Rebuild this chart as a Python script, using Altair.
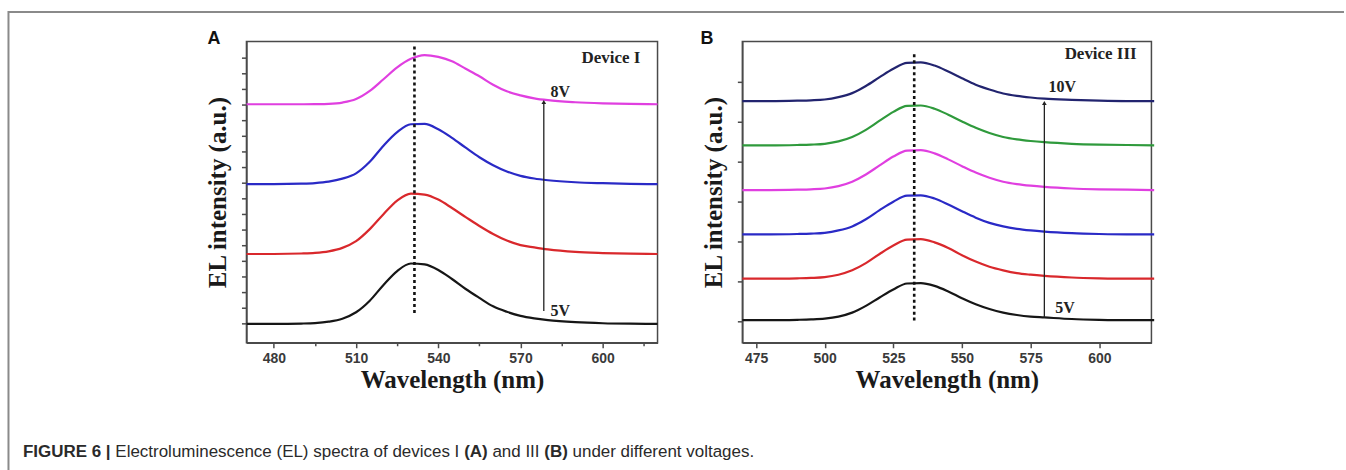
import altair as alt
import pandas as pd

# ---------------- data ----------------
WAVELENGTH = [470, 480, 490, 495, 500, 505, 510, 515, 520, 525, 530, 535, 540,
              545, 550, 555, 560, 565, 570, 575, 580, 590, 600, 610, 620]

# Device I (panel A), offset curves, y in tick units
DEV1_NAMES = ["I-5V", "I-6V", "I-7V", "I-8V"]
DEV1_5V = [0.00, 0.00, 0.02, 0.05, 0.14, 0.33, 0.74, 1.48, 2.49, 3.38, 3.86, 3.80, 3.45,
           2.87, 2.23, 1.66, 1.12, 0.77, 0.51, 0.35, 0.24, 0.11, 0.04, 0.01, 0.00]
DEV1_6V = [4.47, 4.47, 4.50, 4.54, 4.64, 4.86, 5.29, 6.06, 7.02, 7.89, 8.33, 8.27, 7.95,
           7.41, 6.83, 6.26, 5.75, 5.33, 5.04, 4.89, 4.76, 4.60, 4.53, 4.49, 4.47]
DEV1_7V = [8.94, 8.94, 8.97, 9.01, 9.10, 9.29, 9.63, 10.37, 11.40, 12.27, 12.77, 12.79, 12.45,
           11.90, 11.27, 10.66, 10.15, 9.75, 9.47, 9.30, 9.19, 9.06, 9.00, 8.96, 8.94]
DEV1_8V = [14.05, 14.05, 14.05, 14.06, 14.08, 14.16, 14.38, 14.90, 15.65, 16.41, 16.96, 17.20, 17.08,
           16.80, 16.32, 15.84, 15.30, 14.88, 14.62, 14.43, 14.31, 14.18, 14.11, 14.07, 14.05]

# Device III (panel B)
DEV3_NAMES = ["III-5V", "III-6V", "III-7V", "III-8V", "III-9V", "III-10V"]
DEV3_5V = [0.04, 0.04, 0.05, 0.06, 0.08, 0.13, 0.23, 0.40, 0.61, 0.81, 0.96, 0.97, 0.90,
           0.76, 0.59, 0.44, 0.32, 0.23, 0.17, 0.13, 0.11, 0.07, 0.05, 0.04, 0.04]
DEV3_6V = [1.08, 1.08, 1.09, 1.10, 1.12, 1.18, 1.29, 1.47, 1.70, 1.91, 2.06, 2.07, 1.99,
           1.85, 1.67, 1.51, 1.38, 1.29, 1.22, 1.18, 1.15, 1.11, 1.09, 1.08, 1.08]
DEV3_7V = [2.19, 2.19, 2.20, 2.21, 2.23, 2.29, 2.39, 2.57, 2.80, 3.01, 3.16, 3.17, 3.09,
           2.94, 2.77, 2.61, 2.48, 2.39, 2.33, 2.29, 2.26, 2.22, 2.20, 2.19, 2.19]
DEV3_8V = [3.30, 3.30, 3.31, 3.32, 3.34, 3.40, 3.51, 3.69, 3.92, 4.14, 4.29, 4.30, 4.22,
           4.07, 3.90, 3.74, 3.61, 3.51, 3.45, 3.41, 3.38, 3.34, 3.32, 3.31, 3.30]
DEV3_9V = [4.42, 4.42, 4.43, 4.44, 4.46, 4.52, 4.63, 4.81, 5.04, 5.26, 5.41, 5.42, 5.34,
           5.19, 5.02, 4.86, 4.73, 4.63, 4.57, 4.53, 4.50, 4.46, 4.44, 4.43, 4.42]
DEV3_10V = [5.53, 5.53, 5.54, 5.55, 5.57, 5.63, 5.73, 5.91, 6.13, 6.34, 6.49, 6.50, 6.42,
            6.27, 6.10, 5.94, 5.82, 5.72, 5.66, 5.62, 5.59, 5.56, 5.54, 5.53, 5.53]

A_XTICKS = [480, 495, 510, 525, 540, 555, 570, 585, 600, 615]
B_XTICKS = [475, 487.5, 500, 512.5, 525, 537.5, 550, 562.5, 575, 587.5, 600, 612.5]
A_YTICKS = list(range(0, 18))
B_YTICKS = list(range(0, 7))

# ---------------- styles ----------------
A_COLORS = ["#161616", "#d9282c", "#2a2ac6", "#e03fe0"]
B_COLORS = ["#161616", "#d9282c", "#2a2ac6", "#e03fe0", "#2f9a3c", "#22246f"]
FRAME = "#4a4a4a"
SERIF = "Liberation Serif"
SANS = "Liberation Sans"
YTITLE = "EL intensity (a.u.)"
XTITLE = "Wavelength (nm)"


def long_frame(names, series):
    rows = []
    for name, vals in zip(names, series):
        for w, v in zip(WAVELENGTH, vals):
            rows.append({"wl": w, "y": v, "series": name})
    return pd.DataFrame(rows)


dfA = long_frame(DEV1_NAMES, [DEV1_5V, DEV1_6V, DEV1_7V, DEV1_8V])
dfB = long_frame(DEV3_NAMES, [DEV3_5V, DEV3_6V, DEV3_7V, DEV3_8V, DEV3_9V, DEV3_10V])
one = pd.DataFrame({"k": [0]})

# Arial / Liberation Sans advance widths (per 1000 em) for the caption
REG = {" ": 278, "(": 333, ")": 333, ".": 278, "E": 667, "L": 556, "I": 278, "a": 556,
       "c": 500, "d": 556, "e": 556, "f": 278, "g": 556, "i": 222, "l": 222, "m": 833,
       "n": 556, "o": 556, "p": 556, "r": 333, "s": 500, "t": 278, "u": 556, "v": 500,
       "h": 556, "y": 500}
BOLD = {" ": 278, "|": 280, "(": 333, ")": 333, "6": 556, "F": 611, "I": 278, "G": 778,
        "U": 722, "R": 722, "E": 667, "A": 722, "B": 722}
CAP_SIZE = 17
CAPTION = [("FIGURE 6 | ", True), ("Electroluminescence (EL) spectra of devices I ", False),
           ("(A) ", True), ("and III ", False), ("(B) ", True), ("under different voltages.", False)]


def panel(df, names, colors, xdom, ydom, xticks, yticks, major, title_pad_y):
    xs = alt.Scale(domain=xdom, nice=False, zero=False)
    ys = alt.Scale(domain=ydom, nice=False, zero=False)
    lines = alt.Chart(df).mark_line(strokeWidth=2.2, interpolate="monotone").encode(
        x=alt.X("wl:Q", scale=xs, title=XTITLE,
                axis=alt.Axis(values=xticks,
                              labelExpr=f"datum.value % {major} == 0 ? datum.label : ''",
                              tickSize={"condition": {"test": f"datum.value % {major} == 0", "value": 5},
                                        "value": 3},
                              labelPadding=4, titlePadding=2)),
        y=alt.Y("y:Q", scale=ys, title=YTITLE,
                axis=alt.Axis(values=yticks, labels=False, ticks=False,
                              titlePadding=title_pad_y)),
        color=alt.Color("series:N", scale=alt.Scale(domain=names, range=colors), legend=None),
    )
    # left-axis tick marks drawn through the y scale
    ticks = alt.Chart(pd.DataFrame({"y": yticks})).mark_rule(color=FRAME, strokeWidth=1.5).encode(
        y=alt.Y("y:Q", title=YTITLE), x=alt.value(-4.5), x2=alt.value(0))
    return lines + ticks


def txt(s, x, y, size=16, font=SERIF, weight="bold", color="#222", align="center",
        baseline="middle"):
    return alt.Chart(one).mark_text(text=s, font=font, fontWeight=weight, fontSize=size,
                                    color=color, align=align, baseline=baseline).encode(
        x=alt.datum(x), y=alt.datum(y))


def vtxt(s, px, py, size=16, font=SANS, weight="bold", color="#111", align="left",
         baseline="middle"):
    return alt.Chart(one).mark_text(text=s, font=font, fontWeight=weight, fontSize=size,
                                    color=color, align=align, baseline=baseline).encode(
        x=alt.value(px), y=alt.value(py))


def dotted(x, y0, y1):
    return alt.Chart(one).mark_rule(color="#111", strokeWidth=2.6, strokeDash=[3, 3]).encode(
        x=alt.datum(x), y=alt.datum(y0), y2=alt.datum(y1))


def arrow(x, y0, y1):
    shaft = alt.Chart(one).mark_rule(color="#222", strokeWidth=1.3).encode(
        x=alt.datum(x), y=alt.datum(y0), y2=alt.datum(y1))
    head = alt.Chart(one).mark_point(shape="triangle-up", filled=True, size=22, color="#222",
                                     opacity=1).encode(x=alt.datum(x), y=alt.datum(y1))
    return shaft + head


# ---------------- panel A ----------------
linesA = panel(dfA, DEV1_NAMES, A_COLORS, [470, 620], [-1.21, 18.07], A_XTICKS, A_YTICKS, 30, 16)

# caption segments, page frame and page extent (pixel offsets from panel A's plot origin)
cap_layers = []
cx = 22 - 246
for s, bold in CAPTION:
    table = BOLD if bold else REG
    cap_layers.append(vtxt(s, cx, 416, size=CAP_SIZE, font=SANS,
                           weight="bold" if bold else "normal", color="#2a2a2a",
                           baseline="alphabetic"))
    cx += sum(table.get(c, 556) for c in s) * CAP_SIZE / 1000

frame_top = alt.Chart(one).mark_rule(color="#8a8a8a", strokeWidth=2).encode(
    x=alt.value(-239), x2=alt.value(1100), y=alt.value(-29.5))
frame_left = alt.Chart(one).mark_rule(color="#8a8a8a", strokeWidth=2).encode(
    x=alt.value(-238.5), y=alt.value(-30.5), y2=alt.value(430))
extent = alt.Chart(one).mark_rule(color="white", opacity=0, strokeWidth=0.01).encode(
    x=alt.value(-246), x2=alt.value(1100), y=alt.value(-40), y2=alt.value(430))

panelA = alt.layer(
    extent, frame_top, frame_left,
    linesA,
    dotted(531.3, 0.7, 17.75),
    arrow(578.5, 0.83, 14.2),
    txt("8V", 584.5, 14.81),
    txt("5V", 584.5, 0.83),
    txt("Device I", 603, 17.0, size=17),
    vtxt("A", -39, -2, size=18),
    *cap_layers,
).properties(width=412, height=302)

# ---------------- panel B ----------------
linesB = panel(dfB, DEV3_NAMES, B_COLORS, [470, 619], [-0.525, 7.025], B_XTICKS, B_YTICKS, 25, 16)

panelB = alt.layer(
    linesB,
    dotted(532.6, 0.03, 6.73),
    arrow(580, 0.11, 5.48),
    txt("10V", 586.5, 5.875),
    txt("5V", 587.5, 0.35),
    txt("Device III", 600.5, 6.7, size=17),
    vtxt("B", -42, -2, size=18),
).properties(width=410, height=302)

chart = alt.hconcat(panelA, panelB, spacing=85, bounds="flush").resolve_scale(
    color="independent"
).properties(
    padding=0
).configure_view(
    stroke=FRAME, strokeWidth=1.5
).configure_axis(
    grid=False, domainColor=FRAME, domainWidth=1.5, tickColor=FRAME, tickWidth=1.5,
    labelFont=SANS, labelFontWeight="bold", labelFontSize=14, labelColor="#3a3a3a",
    titleFont=SERIF, titleFontWeight="bold", titleFontSize=25, titleColor="#1a1a1a"
)

chart.save("out.html", embed_options={"renderer": "svg", "actions": False})
